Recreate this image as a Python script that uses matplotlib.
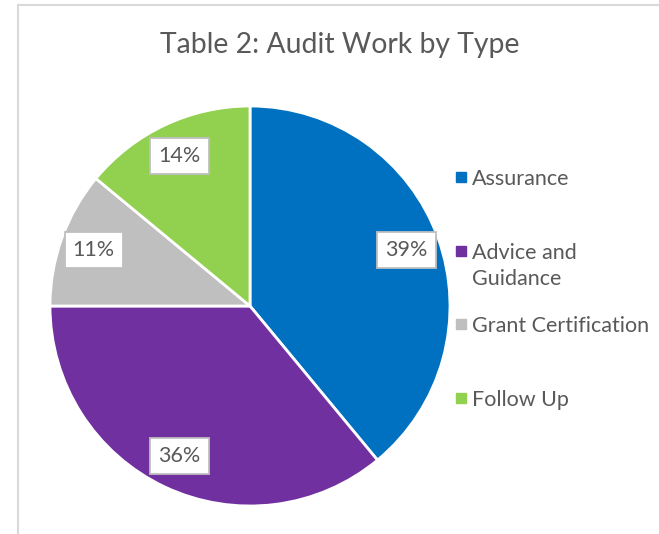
import matplotlib.pyplot as plt
from matplotlib.patches import Rectangle
from matplotlib.lines import Line2D

# data
categories = ["Assurance", "Advice and\nGuidance", "Grant Certification", "Follow Up"]
shares = [39, 36, 11, 14]
colors = ["#0070c0", "#7030a0", "#bfbfbf", "#92d050"]

plt.rcParams['font.family'] = ['Lato', 'DejaVu Sans']
text_grey = "#595959"
W, H = 659, 534

fig = plt.figure(figsize=(W / 100, H / 100), dpi=100)

# light grey chart frame (only left and top edges fall inside the picture)
fig.patches.append(Rectangle((18 / W, -0.1), 1.2, 1 - 5 / H + 0.1,
                             transform=fig.transFigure, fill=False,
                             ec="#d9d9d9", lw=1.5))

ax = fig.add_axes([50 / W, 28 / H, 400 / W, 400 / H])
wedges, texts, autotexts = ax.pie(
    shares, colors=colors, startangle=90, counterclock=False,
    autopct="%d%%", pctdistance=0.83,
    wedgeprops=dict(edgecolor="white", linewidth=2),
    textprops=dict(color=text_grey, fontsize=15.5),
)
for t in autotexts:
    t.set_bbox(dict(boxstyle="square,pad=0.38", fc="white", ec="#bfbfbf", lw=1.3))
ax.set_xlim(-1, 1)
ax.set_ylim(-1, 1)
ax.set_aspect("equal")

fig.text(340 / W, 1 - 45 / H, "Table 2: Audit Work by Type",
         ha="center", va="center", fontsize=20.4, color=text_grey)

# legend drawn by hand: entries on a fixed step, marker level with first line
for i, (label, color) in enumerate(zip(categories, colors)):
    y = 1 - (177 + 73.7 * i) / H
    fig.add_artist(Line2D([461 / W], [y], marker="s", markersize=6.5,
                          color=color, transform=fig.transFigure))
    fig.text(472 / W, y + 8 / H, label, ha="left", va="top",
             fontsize=15.5, color=text_grey, linespacing=1.37)

fig.savefig("out.png", dpi=100)
